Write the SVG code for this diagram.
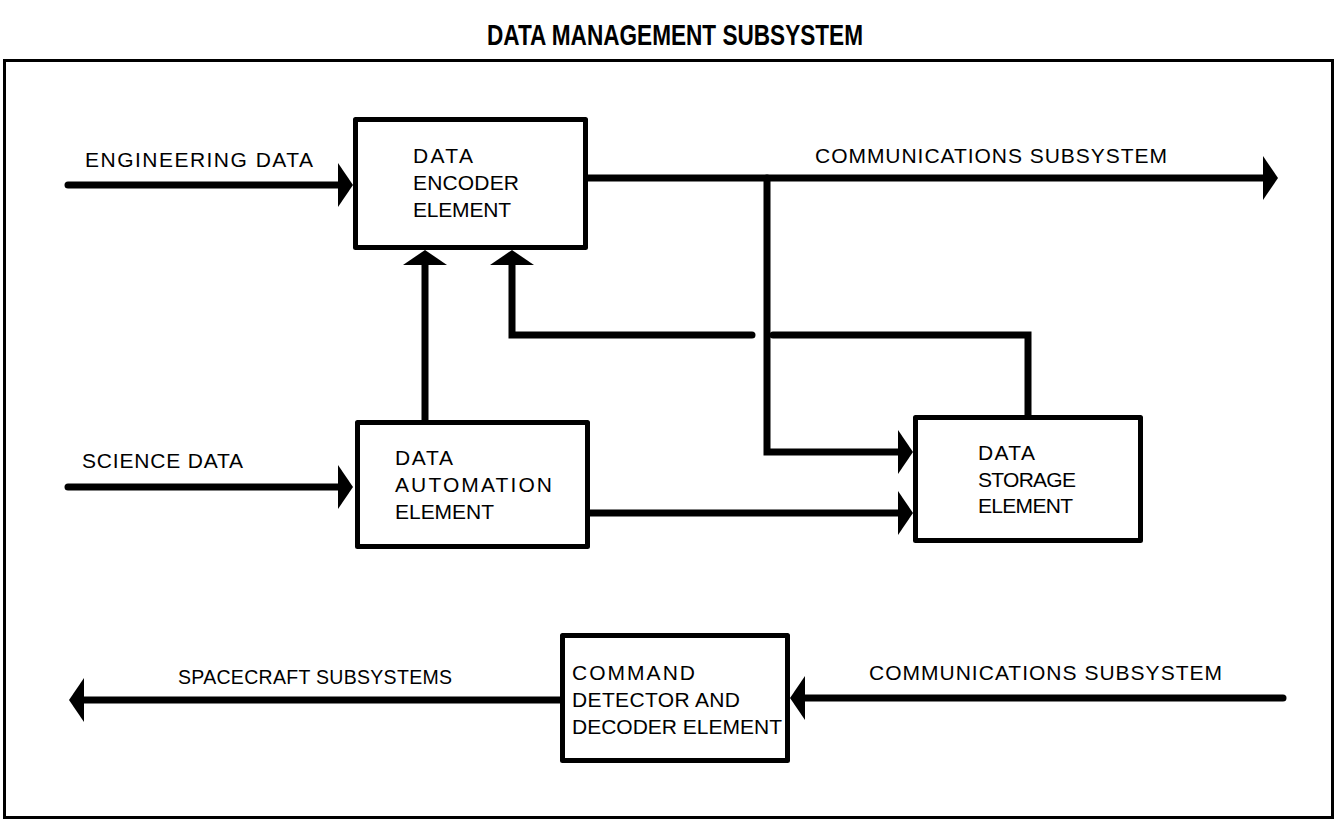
<svg xmlns="http://www.w3.org/2000/svg" width="1337" height="822" viewBox="0 0 1337 822">
  <style>
    .frame { fill: none; stroke: #000; stroke-width: 3; }
    .box { fill: #fff; stroke: #000; stroke-width: 5; stroke-linejoin: round; }
    .conn { fill: none; stroke: #000; stroke-width: 7; stroke-linecap: round; stroke-linejoin: miter; }
    .lbl { font-family: "Liberation Sans", Arial, sans-serif; font-size: 21px; fill: #000; }
    .sm { font-size: 19.5px; }
    .title { font-family: "Liberation Sans", Arial, sans-serif; font-weight: bold; font-size: 30px; fill: #000; }
  </style>
  <defs>
    <marker id="arrow" viewBox="0 -22 15 44" refX="7" refY="0" markerWidth="15" markerHeight="44" markerUnits="userSpaceOnUse" orient="auto">
      <path d="M0,-22 L15,0 L0,22 Z" fill="#000"/>
    </marker>
  </defs>
  <rect width="1337" height="822" fill="#fff"/>

  <text class="title" x="487" y="45" textLength="376" lengthAdjust="spacingAndGlyphs">DATA MANAGEMENT SUBSYSTEM</text>

  <rect class="frame" x="4.5" y="60.5" width="1328" height="757"/>

  <g id="connectors">
    <path class="conn" d="M68,185 H345" marker-end="url(#arrow)"/>
    <path class="conn" d="M68,487 H345" marker-end="url(#arrow)"/>
    <path class="conn" d="M425,420 V258" marker-end="url(#arrow)"/>
    <path class="conn" d="M752,335 H512 V258" marker-end="url(#arrow)"/>
    <path class="conn" d="M1028,415 V335 H773"/>
    <path class="conn" d="M588,178 H1270" marker-end="url(#arrow)"/>
    <path class="conn" d="M767,178 V452 H905" marker-end="url(#arrow)"/>
    <path class="conn" d="M590,513 H905" marker-end="url(#arrow)"/>
    <path class="conn" d="M560,700 H77" marker-end="url(#arrow)"/>
    <path class="conn" d="M1283,698 H798" marker-end="url(#arrow)"/>
  </g>

  <g id="labels">
    <text class="lbl" x="85" y="167" textLength="228" lengthAdjust="spacing">ENGINEERING DATA</text>
    <text class="lbl" x="82" y="468" textLength="161" lengthAdjust="spacing">SCIENCE DATA</text>
    <text class="lbl" x="815" y="163" textLength="352" lengthAdjust="spacing">COMMUNICATIONS SUBSYSTEM</text>
    <text class="lbl sm" x="178" y="684" textLength="274" lengthAdjust="spacing">SPACECRAFT SUBSYSTEMS</text>
    <text class="lbl" x="869" y="680" textLength="353" lengthAdjust="spacing">COMMUNICATIONS SUBSYSTEM</text>
  </g>

  <g id="encoder">
    <rect class="box" x="355.5" y="119.5" width="230" height="128"/>
    <text class="lbl" x="413" y="163" textLength="60" lengthAdjust="spacing">DATA</text>
    <text class="lbl" x="413" y="190" textLength="106" lengthAdjust="spacing">ENCODER</text>
    <text class="lbl" x="413" y="217" textLength="98" lengthAdjust="spacing">ELEMENT</text>
  </g>

  <g id="automation">
    <rect class="box" x="357.5" y="422.5" width="230" height="124"/>
    <text class="lbl" x="395" y="465" textLength="58" lengthAdjust="spacing">DATA</text>
    <text class="lbl" x="395" y="492" textLength="157" lengthAdjust="spacing">AUTOMATION</text>
    <text class="lbl" x="395" y="519" textLength="99" lengthAdjust="spacing">ELEMENT</text>
  </g>

  <g id="storage">
    <rect class="box" x="915.5" y="417.5" width="225" height="123"/>
    <text class="lbl" x="978" y="460" textLength="57" lengthAdjust="spacing">DATA</text>
    <text class="lbl" x="978" y="487" textLength="98" lengthAdjust="spacing">STORAGE</text>
    <text class="lbl" x="978" y="513" textLength="95" lengthAdjust="spacing">ELEMENT</text>
  </g>

  <g id="command">
    <rect class="box" x="562.5" y="635.5" width="225" height="125"/>
    <text class="lbl" x="572" y="680" textLength="123" lengthAdjust="spacing">COMMAND</text>
    <text class="lbl" x="572" y="707" textLength="168" lengthAdjust="spacing">DETECTOR AND</text>
    <text class="lbl" x="572" y="734" textLength="210" lengthAdjust="spacing">DECODER ELEMENT</text>
  </g>
</svg>
